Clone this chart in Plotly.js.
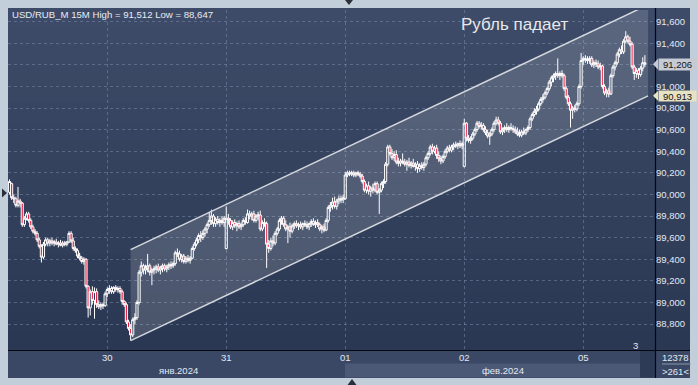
<!DOCTYPE html>
<html><head><meta charset="utf-8">
<script src="https://cdn.plot.ly/plotly-3.0.1.min.js"></script>
<style>html,body{margin:0;padding:0;background:#c3cedb;}#chart{width:698px;height:385px;}</style>
</head><body><div id="chart"></div>
<script>
// ---- data: USD/RUB 15M candles (29 Jan evening .. 05 Feb 2024) ----
const openP = [
90.02,90.10,89.97,89.96,89.90,89.94,89.92,89.72,89.78,89.82,
89.76,89.70,89.66,89.64,89.58,89.52,89.42,89.54,89.58,89.55,
89.57,89.55,89.56,89.54,89.55,89.53,89.55,89.54,89.56,89.64,
89.57,89.50,89.48,89.43,89.41,89.38,89.40,89.15,88.95,89.10,
89.02,89.10,88.98,88.96,88.98,88.97,89.08,89.12,89.13,89.10,
89.14,89.12,89.13,89.10,89.01,88.98,88.82,88.76,88.70,88.84,
88.86,89.00,89.28,89.34,89.30,89.32,89.34,89.28,89.30,89.31,
89.33,89.30,89.32,89.34,89.31,89.33,89.35,89.34,89.36,89.46,
89.45,89.40,89.43,89.38,89.41,89.39,89.41,89.50,89.54,89.58,
89.62,89.60,89.64,89.68,89.72,89.76,89.80,89.73,89.77,89.74,
89.76,89.74,89.50,89.78,89.76,89.70,89.74,89.71,89.73,89.70,
89.72,89.76,89.74,89.82,89.80,89.82,89.76,89.80,89.81,89.68,
89.74,89.73,89.54,89.50,89.57,89.55,89.64,89.68,89.76,89.78,
89.72,89.68,89.70,89.66,89.71,89.73,89.71,89.72,89.70,89.73,
89.72,89.70,89.73,89.75,89.72,89.74,89.72,89.68,89.70,89.67,
89.76,89.88,89.90,89.93,89.89,89.94,89.96,89.95,89.96,90.18,
90.20,90.19,90.20,90.18,90.20,90.19,90.17,90.12,90.04,90.08,
90.03,90.06,90.04,90.10,90.02,90.04,90.10,90.12,90.28,90.44,
90.38,90.34,90.37,90.30,90.29,90.31,90.30,90.28,90.30,90.27,
90.29,90.26,90.28,90.24,90.27,90.25,90.28,90.34,90.38,90.44,
90.40,90.43,90.36,90.33,90.31,90.35,90.40,90.43,90.41,90.44,
90.46,90.45,90.47,90.45,90.26,90.66,90.52,90.50,90.52,90.56,
90.60,90.66,90.63,90.64,90.60,90.57,90.54,90.56,90.60,90.66,
90.69,90.66,90.58,90.60,90.62,90.60,90.62,90.61,90.60,90.58,
90.56,90.55,90.58,90.57,90.60,90.62,90.70,90.74,90.77,90.79,
90.84,90.88,90.90,90.94,90.98,91.04,91.08,91.10,91.12,91.10,
91.12,91.10,90.98,90.90,90.84,90.78,90.80,90.79,90.84,91.00,
91.24,91.26,91.25,91.24,91.26,91.20,91.22,91.21,91.18,91.19,
91.00,90.94,90.96,90.93,91.10,91.18,91.22,91.30,91.34,91.32,
91.42,91.46,91.42,91.39,91.18,91.12,91.15,91.11,91.17,91.22];
const highP = [
90.14,90.11,90.00,89.98,90.07,89.96,89.93,89.80,89.84,89.84,
89.78,89.72,89.68,89.66,89.60,89.54,89.56,89.60,89.60,89.59,
89.60,89.58,89.59,89.57,89.58,89.57,89.57,89.57,89.66,89.66,
89.60,89.52,89.50,89.46,89.43,89.42,89.41,89.16,89.12,89.15,
89.14,89.13,89.02,89.00,89.00,89.10,89.14,89.16,89.15,89.15,
89.16,89.15,89.15,89.12,89.02,89.00,88.84,88.80,88.86,88.90,
89.02,89.30,89.38,89.36,89.35,89.45,89.36,89.32,89.34,89.35,
89.36,89.34,89.36,89.36,89.35,89.37,89.38,89.38,89.48,89.50,
89.48,89.45,89.45,89.43,89.44,89.43,89.52,89.56,89.60,89.64,
89.66,89.67,89.70,89.74,89.84,89.86,89.82,89.79,89.80,89.78,
89.80,89.80,89.89,89.82,89.78,89.76,89.77,89.75,89.76,89.74,
89.78,89.79,89.86,89.85,89.84,89.85,89.82,89.84,89.85,89.76,
89.78,89.75,89.58,89.60,89.62,89.66,89.70,89.78,89.80,89.80,
89.76,89.72,89.74,89.73,89.75,89.76,89.74,89.75,89.74,89.76,
89.75,89.74,89.77,89.78,89.76,89.77,89.74,89.72,89.73,89.78,
89.90,89.93,89.97,89.98,89.96,89.99,89.99,90.00,90.21,90.22,
90.22,90.22,90.22,90.21,90.22,90.21,90.19,90.14,90.10,90.12,
90.08,90.10,90.12,90.12,90.06,90.12,90.14,90.30,90.46,90.46,
90.42,90.40,90.41,90.34,90.33,90.38,90.33,90.32,90.34,90.31,
90.33,90.30,90.31,90.29,90.30,90.30,90.36,90.40,90.46,90.47,
90.45,90.46,90.40,90.36,90.37,90.42,90.45,90.46,90.46,90.48,
90.49,90.48,90.50,90.49,90.70,90.67,90.55,90.54,90.58,90.62,
90.68,90.68,90.67,90.66,90.63,90.60,90.58,90.62,90.68,90.72,
90.72,90.68,90.62,90.64,90.66,90.64,90.66,90.64,90.63,90.62,
90.60,90.60,90.62,90.61,90.64,90.72,90.76,90.80,90.82,90.86,
90.90,90.93,90.96,91.00,91.06,91.10,91.12,91.14,91.26,91.14,
91.15,91.12,91.00,90.92,90.86,90.82,90.83,90.86,91.02,91.31,
91.28,91.29,91.28,91.28,91.28,91.24,91.25,91.24,91.22,91.20,
91.02,90.98,90.99,91.12,91.20,91.24,91.32,91.36,91.38,91.44,
91.512,91.48,91.46,91.41,91.20,91.17,91.17,91.19,91.27,91.29];
const lowP = [
90.00,89.95,89.92,89.88,89.88,89.88,89.70,89.70,89.76,89.74,
89.68,89.64,89.62,89.56,89.50,89.37,89.40,89.52,89.52,89.52,
89.53,89.52,89.53,89.51,89.52,89.51,89.52,89.52,89.55,89.55,
89.48,89.46,89.41,89.39,89.36,89.35,89.13,88.86,88.88,88.98,
88.85,88.95,88.94,88.93,88.94,88.96,89.05,89.08,89.08,89.08,
89.10,89.09,89.08,88.98,88.96,88.80,88.74,88.647,88.68,88.80,
88.84,88.98,89.24,89.26,89.26,89.28,89.25,89.16,89.26,89.27,
89.28,89.26,89.28,89.29,89.28,89.30,89.31,89.32,89.34,89.42,
89.38,89.37,89.36,89.36,89.37,89.36,89.40,89.48,89.52,89.55,
89.56,89.58,89.61,89.64,89.70,89.72,89.70,89.70,89.72,89.70,
89.72,89.70,89.49,89.72,89.68,89.67,89.69,89.66,89.68,89.67,
89.70,89.72,89.73,89.77,89.76,89.74,89.74,89.76,89.66,89.66,
89.70,89.32,89.46,89.48,89.52,89.53,89.62,89.66,89.72,89.70,
89.66,89.55,89.60,89.64,89.68,89.69,89.67,89.68,89.67,89.70,
89.68,89.67,89.70,89.71,89.69,89.70,89.66,89.64,89.65,89.66,
89.74,89.84,89.86,89.87,89.86,89.91,89.92,89.92,89.95,90.16,
90.17,90.17,90.16,90.16,90.17,90.15,90.10,90.02,90.01,90.00,
89.98,90.01,90.02,90.00,89.82,90.02,90.06,90.10,90.26,90.36,
90.32,90.31,90.28,90.26,90.26,90.28,90.26,90.22,90.25,90.24,
90.25,90.22,90.20,90.21,90.23,90.22,90.26,90.32,90.36,90.37,
90.38,90.33,90.30,90.28,90.29,90.33,90.38,90.39,90.39,90.41,
90.43,90.42,90.43,90.42,90.25,90.49,90.48,90.47,90.50,90.54,
90.58,90.61,90.60,90.58,90.55,90.52,90.46,90.54,90.58,90.64,
90.64,90.56,90.55,90.57,90.58,90.57,90.59,90.57,90.56,90.54,
90.53,90.53,90.55,90.55,90.58,90.60,90.68,90.72,90.74,90.77,
90.82,90.85,90.88,90.92,90.96,91.00,91.04,91.06,91.08,91.06,
91.08,90.96,90.88,90.82,90.62,90.70,90.76,90.77,90.82,90.98,
91.20,91.22,91.21,91.21,91.18,91.17,91.18,91.16,91.15,90.98,
90.92,90.90,90.90,90.92,91.08,91.15,91.20,91.27,91.30,91.30,
91.40,91.40,91.37,91.16,91.06,91.08,91.07,91.09,91.14,91.18];
const closeP = [
90.12,89.97,89.96,89.90,89.94,89.92,89.72,89.78,89.82,89.76,
89.70,89.66,89.64,89.58,89.52,89.42,89.54,89.58,89.55,89.57,
89.55,89.56,89.54,89.55,89.53,89.55,89.54,89.56,89.64,89.57,
89.50,89.48,89.43,89.41,89.38,89.40,89.15,88.95,89.10,89.02,
89.10,88.98,88.96,88.98,88.97,89.08,89.12,89.13,89.10,89.14,
89.12,89.13,89.10,89.01,88.98,88.82,88.76,88.70,88.84,88.86,
89.00,89.28,89.34,89.30,89.32,89.34,89.28,89.30,89.31,89.33,
89.30,89.32,89.34,89.31,89.33,89.35,89.34,89.36,89.46,89.45,
89.40,89.43,89.38,89.41,89.39,89.41,89.50,89.54,89.58,89.62,
89.60,89.64,89.68,89.72,89.76,89.80,89.73,89.77,89.74,89.76,
89.74,89.78,89.78,89.76,89.70,89.74,89.71,89.73,89.70,89.72,
89.76,89.74,89.82,89.80,89.82,89.76,89.80,89.81,89.68,89.74,
89.73,89.54,89.50,89.57,89.55,89.64,89.68,89.76,89.78,89.72,
89.68,89.70,89.66,89.71,89.73,89.71,89.72,89.70,89.73,89.72,
89.70,89.73,89.75,89.72,89.74,89.72,89.68,89.70,89.67,89.76,
89.88,89.90,89.93,89.89,89.94,89.96,89.95,89.97,90.18,90.20,
90.19,90.20,90.18,90.20,90.19,90.17,90.12,90.04,90.08,90.03,
90.06,90.04,90.10,90.02,90.04,90.10,90.12,90.28,90.44,90.38,
90.34,90.37,90.30,90.29,90.31,90.30,90.28,90.30,90.27,90.29,
90.26,90.28,90.24,90.27,90.25,90.28,90.34,90.38,90.44,90.40,
90.43,90.36,90.33,90.31,90.35,90.40,90.43,90.41,90.44,90.46,
90.45,90.47,90.45,90.47,90.66,90.52,90.50,90.52,90.56,90.60,
90.66,90.63,90.64,90.60,90.57,90.54,90.56,90.60,90.66,90.69,
90.66,90.58,90.60,90.62,90.60,90.62,90.61,90.60,90.58,90.56,
90.55,90.58,90.57,90.60,90.62,90.70,90.74,90.77,90.79,90.84,
90.88,90.90,90.94,90.98,91.04,91.08,91.10,91.12,91.10,91.12,
91.10,90.98,90.90,90.84,90.78,90.80,90.79,90.84,91.00,91.24,
91.26,91.25,91.24,91.26,91.20,91.22,91.21,91.18,91.19,91.00,
90.94,90.96,90.93,91.10,91.18,91.22,91.30,91.34,91.32,91.42,
91.46,91.42,91.39,91.18,91.12,91.15,91.11,91.17,91.22,91.206];

// day separators (candle index of first bar of the day) and labels
const dayTickIdx = [46, 102, 158, 214, 270];
const dayLabels = ['30', '31', '01', '02', '05'];
const monthLabels = ['янв.2024', 'фев.2024'];
const priceTicks = [88.8, 89.0, 89.2, 89.4, 89.6, 89.8, 90.0, 90.2, 90.4, 90.6, 90.8, 91.0, 91.2, 91.4, 91.6];
// 91,200 is hidden behind the last-price marker in the original
const priceTickText = ['88,800', '89,000', '89,200', '89,400', '89,600', '89,800', '90,000', '90,200',
  '90,400', '90,600', '90,800', '91,000', '', '91,400', '91,600'];

// drawn trend channel (bar index, price)
const channelX = [57, 300.5];
const channelLow = [88.647, 90.913];
const channelHigh = [89.49, 91.756];

const lastPrice = 91.206;
const channelEndPrice = 90.913;

// ---- helpers (pixel -> paper) ----
const PL = 8, PW = 647, PT = 10, PH = 340;
const px = x => (x - PL) / PW;
const py = y => (PT + PH - y) / PH;

const idx = openP.map((_, i) => i);

const traces = [
  {type: 'scatter', mode: 'lines', hoverinfo: 'skip',
   x: [channelX[0], channelX[1], channelX[1], channelX[0], channelX[0]],
   y: [channelLow[0], channelLow[1], channelHigh[1], channelHigh[0], channelLow[0]],
   fill: 'toself', fillcolor: 'rgba(255,255,255,0.15)', line: {width: 0}},
  {type: 'scatter', mode: 'lines', hoverinfo: 'skip', x: channelX, y: channelHigh,
   line: {color: '#d4d8de', width: 1.5}},
  {type: 'scatter', mode: 'lines', hoverinfo: 'skip', x: channelX, y: channelLow,
   line: {color: '#d4d8de', width: 1.5}},
  {type: 'candlestick', x: idx, open: openP, high: highP, low: lowP, close: closeP,
   increasing: {line: {color: '#ffffff', width: 1}, fillcolor: 'rgba(0,0,0,0)'},
   decreasing: {line: {color: '#ffffff', width: 1}, fillcolor: '#e8173c'},
   whiskerwidth: 0, hoverinfo: 'skip'}
];

// background gradient bands for the dark panel
function mix(a, b, t) {
  const pa = a.match(/\w\w/g).map(h => parseInt(h, 16));
  const pb = b.match(/\w\w/g).map(h => parseInt(h, 16));
  return 'rgb(' + pa.map((v, k) => Math.round(v + (pb[k] - v) * t)).join(',') + ')';
}
const shapes = [];
const nb = 18;
for (let k = 0; k < nb; k++) {
  const y0 = 8 + k * (342 / nb), y1 = 8 + (k + 1) * (342 / nb) + 0.5;
  shapes.push({type: 'rect', xref: 'paper', yref: 'paper', layer: 'below',
    x0: px(8), x1: px(690), y0: py(y0), y1: py(y1), line: {width: 0},
    fillcolor: mix('3d4b68', '2b3853', k / (nb - 1))});
}
// bottom time-axis panel
shapes.push({type: 'rect', xref: 'paper', yref: 'paper', layer: 'below', x0: px(8), x1: px(690), y0: py(350), y1: py(378), line: {width: 0}, fillcolor: '#3a4865'});
shapes.push({type: 'rect', xref: 'paper', yref: 'paper', layer: 'below', x0: px(345), x1: px(640), y0: py(363.5), y1: py(377.5), line: {width: 0}, fillcolor: '#4b5977'});
shapes.push({type: 'rect', xref: 'paper', yref: 'paper', layer: 'below', x0: px(640), x1: px(655), y0: py(351), y1: py(377.5), line: {width: 0}, fillcolor: '#2e3b56'});
// separators
shapes.push({type: 'line', xref: 'paper', yref: 'paper', layer: 'above', x0: px(8), x1: px(690), y0: py(350.5), y1: py(350.5), line: {color: '#05080f', width: 1.2}});
shapes.push({type: 'line', xref: 'paper', yref: 'paper', layer: 'above', x0: px(655.5), x1: px(655.5), y0: py(8), y1: py(378), line: {color: '#05080f', width: 1.2}});
shapes.push({type: 'line', xref: 'paper', yref: 'paper', layer: 'above', x0: px(662), x1: px(691), y0: py(364), y1: py(364), line: {color: '#8a96aa', width: 1}});
// small navigation triangles
function tri(pts) {
  return {type: 'path', xref: 'paper', yref: 'paper', layer: 'above', fillcolor: '#2a2f38', line: {width: 0},
    path: 'M' + pts.map(p => px(p[0]) + ',' + py(p[1])).join(' L') + ' Z'};
}
shapes.push(tri([[345, 0], [353, 0], [349, 5]]));
shapes.push(tri([[347.5, 385], [356.5, 385], [352, 379]]));
shapes.push(tri([[2, 188.5], [2, 197.5], [7, 193]]));
// price label arrows
shapes.push({type: 'path', xref: 'paper', yref: 'y', layer: 'above', fillcolor: '#c6cad2', line: {width: 0},
  path: 'M' + px(653) + ',' + lastPrice + ' L' + px(658) + ',' + (lastPrice + 0.05) + ' L' + px(658) + ',' + (lastPrice - 0.05) + ' Z'});
shapes.push({type: 'path', xref: 'paper', yref: 'y', layer: 'above', fillcolor: '#e6e2c2', line: {width: 0},
  path: 'M' + px(653) + ',' + channelEndPrice + ' L' + px(658) + ',' + (channelEndPrice + 0.045) + ' L' + px(658) + ',' + (channelEndPrice - 0.045) + ' Z'});

const txt = '#e2e8f2';
const F = 'Liberation Sans, Arial, sans-serif';
const annotations = [
  {xref: 'paper', yref: 'paper', x: px(10), y: py(14.5), xanchor: 'left', yanchor: 'middle', showarrow: false,
   text: 'USD/RUB_M 15M High = 91,512 Low = 88,647', font: {family: F, size: 9.6, color: '#e8ecf4'}},
  {xref: 'paper', yref: 'paper', x: px(514), y: py(25), xanchor: 'center', yanchor: 'middle', showarrow: false,
   text: 'Рубль падает', font: {family: F, size: 17, color: '#e8e8e8'}},
  {xref: 'paper', yref: 'paper', x: px(178), y: py(370.5), xanchor: 'center', yanchor: 'middle', showarrow: false,
   text: monthLabels[0], font: {family: F, size: 9.5, color: txt}},
  {xref: 'paper', yref: 'paper', x: px(503), y: py(370.5), xanchor: 'center', yanchor: 'middle', showarrow: false,
   text: monthLabels[1], font: {family: F, size: 9.5, color: txt}},
  {xref: 'paper', yref: 'paper', x: px(635), y: py(345), xanchor: 'center', yanchor: 'middle', showarrow: false,
   text: '3', font: {family: F, size: 9.5, color: txt}},
  {xref: 'paper', yref: 'paper', x: px(675), y: py(357), xanchor: 'center', yanchor: 'middle', showarrow: false,
   text: '12378', font: {family: F, size: 9.5, color: txt}},
  {xref: 'paper', yref: 'paper', x: px(675), y: py(371), xanchor: 'center', yanchor: 'middle', showarrow: false,
   text: '>261<', font: {family: F, size: 9.5, color: txt}},
  {xref: 'paper', yref: 'y', x: px(658), y: lastPrice, xanchor: 'left', yanchor: 'middle', showarrow: false,
   text: '91,206', bgcolor: '#c6cad2', borderpad: 0, width: 37, height: 11,
   font: {family: F, size: 9.5, color: '#10141c'}},
  {xref: 'paper', yref: 'y', x: px(658), y: channelEndPrice, xanchor: 'left', yanchor: 'middle', showarrow: false,
   text: '90,913', bgcolor: '#e6e2c2', borderpad: 0, width: 37, height: 10,
   font: {family: F, size: 9.5, color: '#10141c'}}
];

const layout = {
  width: 698, height: 385,
  margin: {l: PL, r: 698 - PL - PW, t: PT, b: 385 - PT - PH, pad: 0},
  paper_bgcolor: '#c3cedb', plot_bgcolor: 'rgba(0,0,0,0)',
  showlegend: false, hovermode: false, separators: ', ',
  boxgap: 0, boxgroupgap: 0, boxmode: 'overlay',
  font: {family: F, size: 9.5, color: txt},
  xaxis: {range: [-0.706, 303.76], tickmode: 'array', tickvals: dayTickIdx, ticktext: dayLabels,
    showgrid: true, gridcolor: 'rgba(118,136,166,0.55)', griddash: '3px,3px', gridwidth: 1,
    ticks: '', zeroline: false, showline: false, fixedrange: true,
    rangeslider: {visible: false}, tickfont: {family: F, size: 9.5, color: txt}},
  yaxis: {side: 'right', range: [88.560, 91.708], tickmode: 'array', tickvals: priceTicks, ticktext: priceTickText,
    showgrid: true, gridcolor: 'rgba(118,136,166,0.55)', griddash: '3px,3px', gridwidth: 1,
    ticks: '', zeroline: false, showline: false, fixedrange: true,
    tickfont: {family: F, size: 9.5, color: txt}},
  shapes: shapes, annotations: annotations
};

Plotly.newPlot('chart', traces, layout, {displayModeBar: false, staticPlot: true});
</script></body></html>
